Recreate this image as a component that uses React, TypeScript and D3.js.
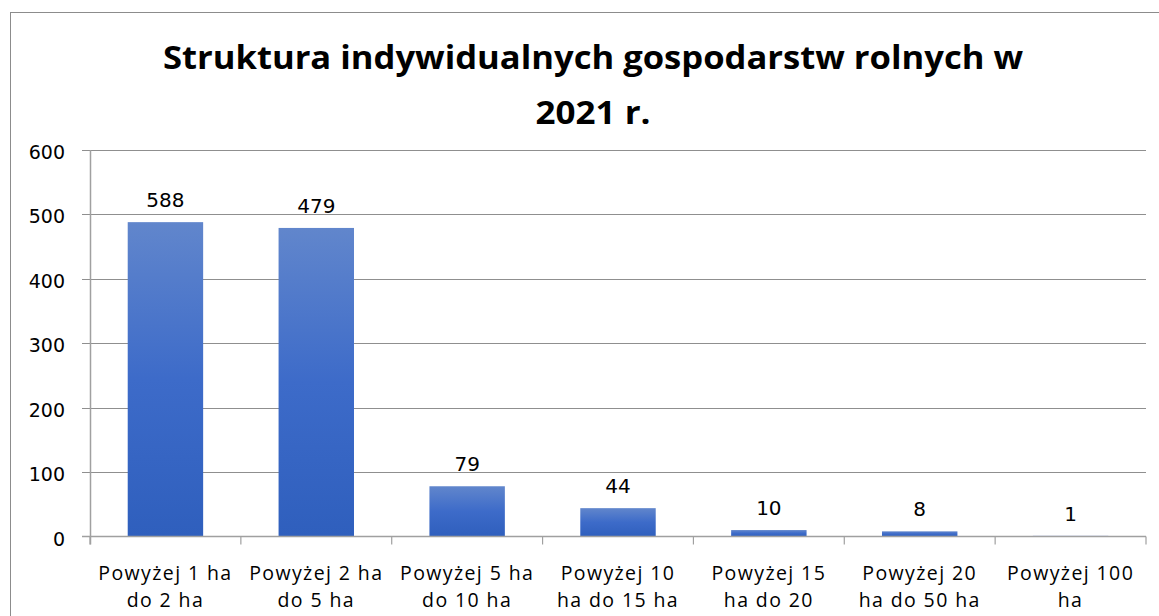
import React, { useEffect, useRef } from "react";
import * as d3 from "d3";

const categories = [
  ["Powyżej 1 ha", "do 2 ha"],
  ["Powyżej 2 ha", "do 5 ha"],
  ["Powyżej 5 ha", "do 10 ha"],
  ["Powyżej 10", "ha do 15 ha"],
  ["Powyżej 15", "ha do 20"],
  ["Powyżej 20", "ha do 50 ha"],
  ["Powyżej 100", "ha"],
];
// bar heights as drawn in the picture
const values = [488, 479, 78, 44, 10, 8, 1];
// data labels as printed above the bars
const dataLabels = ["588", "479", "79", "44", "10", "8", "1"];
const yTicks = [0, 100, 200, 300, 400, 500, 600];
const titleLines = ["Struktura indywidualnych gospodarstw rolnych w", "2021 r."];

function App() {
  const ref = useRef<SVGSVGElement>(null);
  const width = 1159;
  const height = 616;
  const plot = { left: 90, right: 1146, top: 150, bottom: 536.5 };

  useEffect(() => {
    const svg = d3.select(ref.current);
    svg.selectAll("*").remove();

    const defs = svg.append("defs");
    const grad = defs
      .append("linearGradient")
      .attr("id", "barGrad")
      .attr("x1", 0)
      .attr("y1", 0)
      .attr("x2", 0)
      .attr("y2", 1);
    grad.append("stop").attr("offset", "0%").attr("stop-color", "#6186cc");
    grad.append("stop").attr("offset", "50%").attr("stop-color", "#3d6bc9");
    grad.append("stop").attr("offset", "100%").attr("stop-color", "#2f5fbd");

    // outer border
    svg
      .append("rect")
      .attr("x", 10.5)
      .attr("y", 12.5)
      .attr("width", 1160)
      .attr("height", 620)
      .attr("fill", "white")
      .attr("stroke", "#8c8c8c")
      .attr("stroke-width", 1);

    const x = d3
      .scaleBand<number>()
      .domain(values.map((_, i) => i))
      .range([plot.left, plot.right])
      .paddingInner(0.5)
      .paddingOuter(0.25);

    const y = d3.scaleLinear().domain([0, 600]).range([plot.bottom, plot.top]);

    // gridlines
    svg
      .append("g")
      .selectAll("line")
      .data(yTicks.filter((t) => t > 0))
      .enter()
      .append("line")
      .attr("x1", plot.left - 8)
      .attr("x2", plot.right)
      .attr("y1", (d) => Math.round(y(d)) + 0.5)
      .attr("y2", (d) => Math.round(y(d)) + 0.5)
      .attr("stroke", "#8f8f8f")
      .attr("stroke-width", 1);

    // y tick labels
    svg
      .append("g")
      .selectAll("text")
      .data(yTicks)
      .enter()
      .append("text")
      .attr("x", 65)
      .attr("y", (d) => y(d) + 9)
      .attr("text-anchor", "end")
      .attr("font-family", "DejaVu Sans, sans-serif")
      .attr("font-size", 19)
      .attr("fill", "#000")
      .text((d) => d);

    // bars
    svg
      .append("g")
      .selectAll("rect")
      .data(values)
      .enter()
      .append("rect")
      .attr("x", (_, i) => x(i)!)
      .attr("width", x.bandwidth())
      .attr("y", (d) => y(d))
      .attr("height", (d) => y(0) - y(d))
      .attr("fill", "url(#barGrad)");

    // axes
    const step = x.step();
    svg
      .append("line")
      .attr("x1", plot.left + 0.5)
      .attr("x2", plot.left + 0.5)
      .attr("y1", plot.top)
      .attr("y2", plot.bottom + 8)
      .attr("stroke", "#a0a0a0")
      .attr("stroke-width", 1.5);
    svg
      .append("line")
      .attr("x1", plot.left - 8)
      .attr("x2", plot.right)
      .attr("y1", plot.bottom)
      .attr("y2", plot.bottom)
      .attr("stroke", "#a0a0a0")
      .attr("stroke-width", 1.5);
    svg
      .append("g")
      .selectAll("line")
      .data(d3.range(values.length + 1))
      .enter()
      .append("line")
      .attr("x1", (i) => plot.left + i * step)
      .attr("x2", (i) => plot.left + i * step)
      .attr("y1", plot.bottom)
      .attr("y2", plot.bottom + 8)
      .attr("stroke", "#a0a0a0")
      .attr("stroke-width", 1.2);

    // data labels
    svg
      .append("g")
      .selectAll("text")
      .data(values)
      .enter()
      .append("text")
      .attr("x", (_, i) => x(i)! + x.bandwidth() / 2)
      .attr("y", (d) => y(d) - 15)
      .attr("text-anchor", "middle")
      .attr("font-family", "DejaVu Sans, sans-serif")
      .attr("font-size", 20)
      .attr("fill", "#000")
      .text((_, i) => dataLabels[i]);

    // category labels
    const cat = svg
      .append("g")
      .selectAll("text")
      .data(categories)
      .enter()
      .append("text")
      .attr("x", (_, i) => x(i)! + x.bandwidth() / 2)
      .attr("y", 580)
      .attr("text-anchor", "middle")
      .attr("font-family", "Open Sans, sans-serif")
      .attr("font-size", 19.5)
      .attr("letter-spacing", 1.4)
      .attr("fill", "#000");
    cat
      .selectAll("tspan")
      .data((d) => d)
      .enter()
      .append("tspan")
      .attr("x", function () {
        return (this.parentNode as SVGTextElement).getAttribute("x");
      })
      .attr("dy", (_, j) => (j === 0 ? 0 : 27))
      .text((d) => d);

    // title
    const titleWidths = [860, 115];
    svg
      .append("g")
      .selectAll("text")
      .data(titleLines)
      .enter()
      .append("text")
      .attr("x", 593)
      .attr("y", (_, i) => 69 + i * 55)
      .attr("text-anchor", "middle")
      .attr("font-family", "Open Sans, sans-serif")
      .attr("font-weight", "bold")
      .attr("font-size", 32)
      .attr("textLength", (_, i) => titleWidths[i])
      .attr("lengthAdjust", "spacingAndGlyphs")
      .attr("fill", "#000")
      .text((d) => d);
  }, []);

  return (
    <svg
      ref={ref}
      width={width}
      height={height}
      style={{ position: "absolute", left: 0, top: 0 }}
    />
  );
}

export default App;
